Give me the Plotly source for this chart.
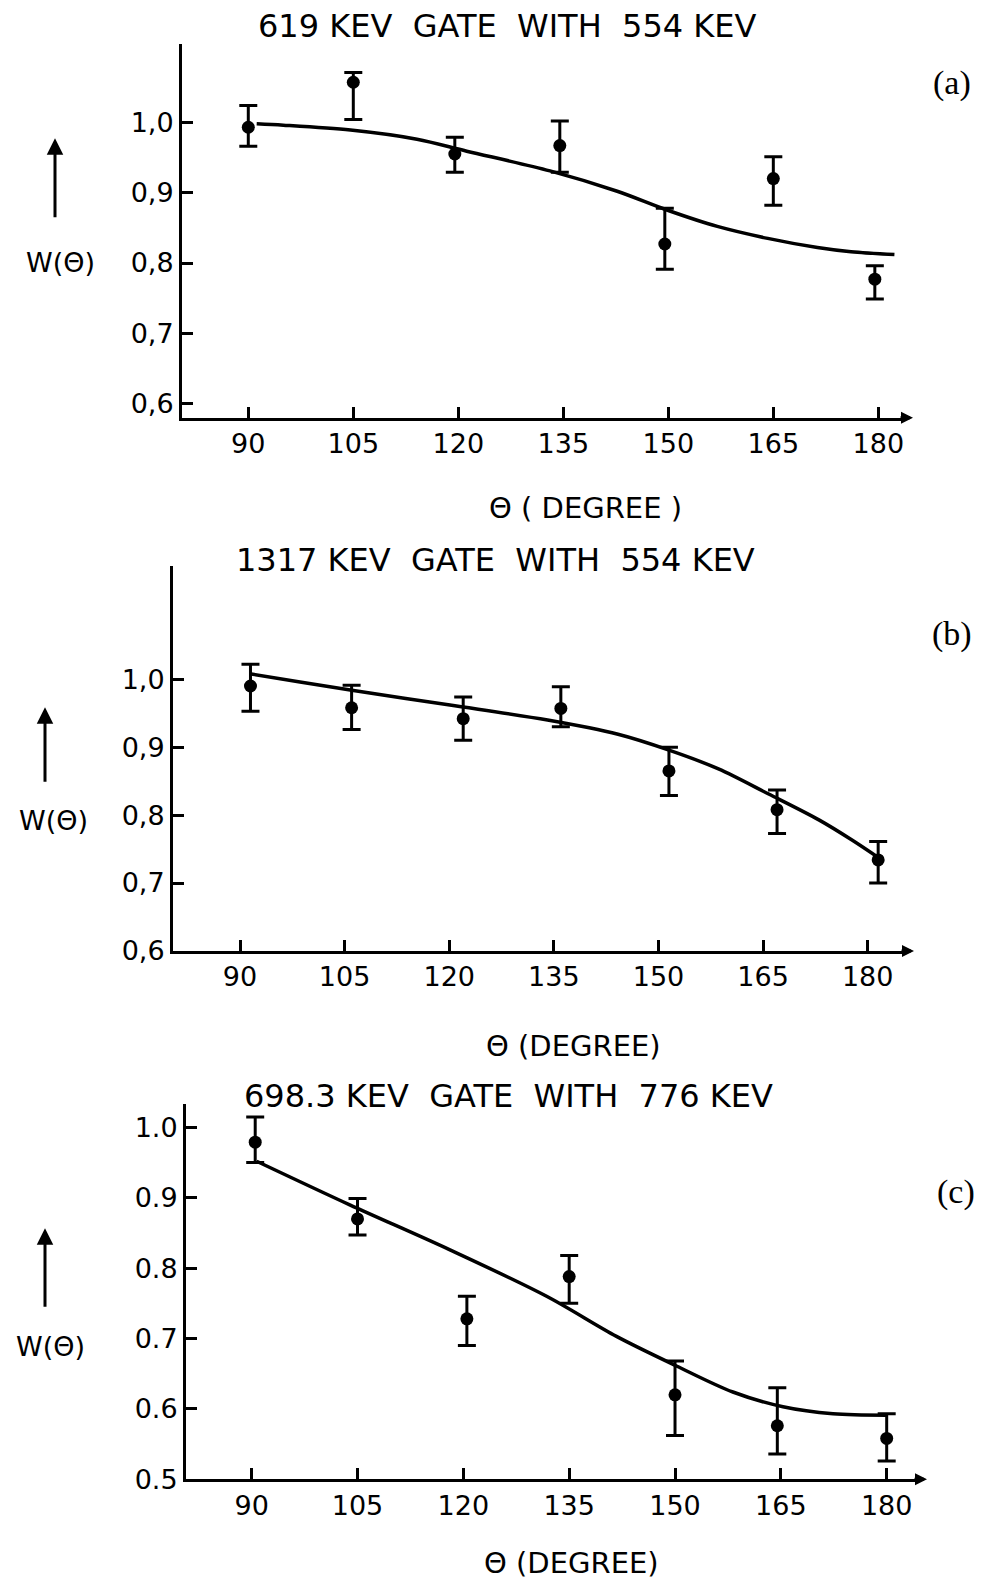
import plotly.graph_objects as go

# ---------------- data ----------------
angle_ticks = [90, 105, 120, 135, 150, 165, 180]

# (a) 619 keV gate with 554 keV
a_theta = [90, 105, 119.5, 134.5, 149.5, 165, 179.5]
a_w = [0.993, 1.057, 0.955, 0.967, 0.827, 0.920, 0.777]
a_hi = [1.024, 1.071, 0.979, 1.002, 0.878, 0.951, 0.796]
a_lo = [0.966, 1.004, 0.929, 0.929, 0.791, 0.882, 0.749]
a_fit_theta = [91.2, 95.0, 104.6, 114.1, 121.2, 133.1, 142.7, 149.9, 157.0, 164.2, 171.3, 176.1, 182.3]
a_fit_w = [0.998, 0.996, 0.989, 0.976, 0.959, 0.931, 0.902, 0.875, 0.852, 0.835, 0.822, 0.816, 0.812]

# (b) 1317 keV gate with 554 keV
b_theta = [91.5, 106, 122, 136, 151.5, 167, 181.5]
b_w = [0.990, 0.958, 0.942, 0.957, 0.865, 0.808, 0.734]
b_hi = [1.022, 0.991, 0.974, 0.989, 0.900, 0.837, 0.761]
b_lo = [0.953, 0.926, 0.910, 0.930, 0.829, 0.773, 0.700]
b_fit_theta = [91.4, 98.6, 105.8, 120.1, 134.1, 144.2, 151.4, 158.6, 165.8, 173.0, 177.8, 181.6]
b_fit_w = [1.008, 0.996, 0.984, 0.962, 0.940, 0.919, 0.896, 0.868, 0.831, 0.793, 0.763, 0.737]

# (c) 698.3 keV gate with 776 keV
c_theta = [90.5, 105, 120.5, 135, 150, 164.5, 180]
c_w = [0.979, 0.870, 0.728, 0.788, 0.620, 0.576, 0.558]
c_hi = [1.015, 0.899, 0.760, 0.818, 0.668, 0.630, 0.593]
c_lo = [0.950, 0.847, 0.690, 0.750, 0.562, 0.536, 0.526]
c_fit_theta = [90.7, 103.9, 118.1, 131.8, 141.7, 150.2, 158.2, 165.3, 172.4, 180.0]
c_fit_w = [0.952, 0.890, 0.826, 0.760, 0.703, 0.661, 0.624, 0.603, 0.593, 0.591]

ab_wticks = [0.6, 0.7, 0.8, 0.9, 1.0]
ab_wlabels = ["0,6", "0,7", "0,8", "0,9", "1,0"]
c_wticks = [0.5, 0.6, 0.7, 0.8, 0.9, 1.0]
c_wlabels = ["0.5", "0.6", "0.7", "0.8", "0.9", "1.0"]

titles = ["619 KEV\u00a0\u00a0GATE\u00a0\u00a0WITH\u00a0\u00a0554 KEV",
          "1317 KEV\u00a0\u00a0GATE\u00a0\u00a0WITH\u00a0\u00a0554 KEV",
          "698.3 KEV\u00a0\u00a0GATE\u00a0\u00a0WITH\u00a0\u00a0776 KEV"]
xtitles = ["\u0398 ( DEGREE )", "\u0398 (DEGREE)", "\u0398 (DEGREE)"]
panel_tags = ["(a)", "(b)", "(c)"]

# ---------------- layout geometry ----------------
W, H = 984, 1593
FONT = "DejaVu Sans"


def px(x):
    return x / W


def py(y):
    return 1 - y / H


fig = go.Figure()

panels = [
    dict(t=a_theta, w=a_w, hi=a_hi, lo=a_lo, ft=a_fit_theta, fw=a_fit_w, ax="x", ay="y"),
    dict(t=b_theta, w=b_w, hi=b_hi, lo=b_lo, ft=b_fit_theta, fw=b_fit_w, ax="x2", ay="y2"),
    dict(t=c_theta, w=c_w, hi=c_hi, lo=c_lo, ft=c_fit_theta, fw=c_fit_w, ax="x3", ay="y3"),
]

for p in panels:
    fig.add_trace(go.Scatter(
        x=p["ft"], y=p["fw"], mode="lines",
        line=dict(color="black", width=3.5, shape="spline", smoothing=0.9),
        xaxis=p["ax"], yaxis=p["ay"], hoverinfo="skip", cliponaxis=False,
    ))
    fig.add_trace(go.Scatter(
        x=p["t"], y=p["w"], mode="markers",
        marker=dict(color="black", size=13, symbol="circle"),
        error_y=dict(
            type="data", symmetric=False,
            array=[h - v for h, v in zip(p["hi"], p["w"])],
            arrayminus=[v - l for v, l in zip(p["w"], p["lo"])],
            color="black", thickness=3, width=9,
        ),
        xaxis=p["ax"], yaxis=p["ay"], cliponaxis=False,
    ))

common_axis = dict(
    showline=True, linecolor="black", linewidth=3, mirror=False,
    ticks="inside", ticklen=11, tickwidth=3, tickcolor="black",
    showgrid=False, zeroline=False,
    tickfont=dict(family=FONT, size=27, color="black"),
)

fig.update_layout(
    width=W, height=H,
    margin=dict(l=0, r=0, t=0, b=0),
    paper_bgcolor="white", plot_bgcolor="white",
    showlegend=False,
    # panel (a)
    xaxis=dict(domain=[px(182), px(905)], range=[80.53, 183.81], anchor="y",
               tickvals=angle_ticks, ticktext=[str(v) for v in angle_ticks], **common_axis),
    yaxis=dict(domain=[py(421.7), py(44)], range=[0.580, 1.112], anchor="x",
               tickvals=ab_wticks, ticktext=ab_wlabels, **common_axis),
    # panel (b)
    xaxis2=dict(domain=[px(173), px(906)], range=[80.39, 185.49], anchor="y2",
                tickvals=angle_ticks, ticktext=[str(v) for v in angle_ticks], **common_axis),
    yaxis2=dict(domain=[py(960), py(571.5)], range=[0.6, 1.1665], anchor="x2",
                tickvals=ab_wticks, ticktext=ab_wlabels, **common_axis),
    # panel (c)
    xaxis3=dict(domain=[px(186), px(919)], range=[80.69, 184.58], anchor="y3",
                tickvals=angle_ticks, ticktext=[str(v) for v in angle_ticks], **common_axis),
    yaxis3=dict(domain=[py(1493.3), py(1114)], range=[0.5, 1.034], anchor="x3",
                tickvals=c_wticks, ticktext=c_wlabels, **common_axis),
)

annotations = []
# headings, axis titles and panel tags
title_pos = [(507, 26), (496, 565), (508, 1106)]
xtitle_pos = [(585, 513), (573, 1056), (571, 1578)]
tag_pos = [(952, 84), (952, 640), (956, 1203)]
wlabel_pos = [(60, 265), (53, 828), (50, 1359)]
uparrow = [(55, 139.5, 220), (45, 714, 790), (45, 1240, 1320)]
axis_end = [(905, 421.7), (906, 960), (919, 1493.3)]

for i in range(3):
    annotations.append(dict(
        x=px(title_pos[i][0]), y=py(title_pos[i][1]), xref="paper", yref="paper",
        text=titles[i], showarrow=False, xanchor="center", yanchor="middle",
        font=dict(family=FONT, size=32, color="black"),
    ))
    annotations.append(dict(
        x=px(xtitle_pos[i][0]), y=py(xtitle_pos[i][1]), xref="paper", yref="paper",
        text=xtitles[i], showarrow=False, xanchor="center", yanchor="middle",
        font=dict(family=FONT, size=29, color="black"),
    ))
    annotations.append(dict(
        x=px(tag_pos[i][0]), y=py(tag_pos[i][1]), xref="paper", yref="paper",
        text=panel_tags[i], showarrow=False, xanchor="center", yanchor="middle",
        font=dict(family="Liberation Serif", size=34, color="black"),
    ))
    annotations.append(dict(
        x=px(wlabel_pos[i][0]), y=py(wlabel_pos[i][1]), xref="paper", yref="paper",
        text="W(\u0398)", showarrow=False, xanchor="center", yanchor="middle",
        font=dict(family=FONT, size=27, color="black"),
    ))
    ux, tip, tail = uparrow[i]
    annotations.append(dict(
        x=px(ux), y=py(tip), xref="paper", yref="paper", text="",
        showarrow=True, ax=0, ay=tail - tip, arrowhead=2, arrowsize=1.1,
        arrowwidth=3, arrowcolor="black",
    ))
    ex, ey = axis_end[i]
    annotations.append(dict(
        x=px(ex + 8), y=py(ey), xref="paper", yref="paper", text="",
        showarrow=True, ax=-14, ay=0, arrowhead=2, arrowsize=0.8,
        arrowwidth=3, arrowcolor="black",
    ))

fig.update_layout(annotations=annotations)

fig.write_html("out.html")
